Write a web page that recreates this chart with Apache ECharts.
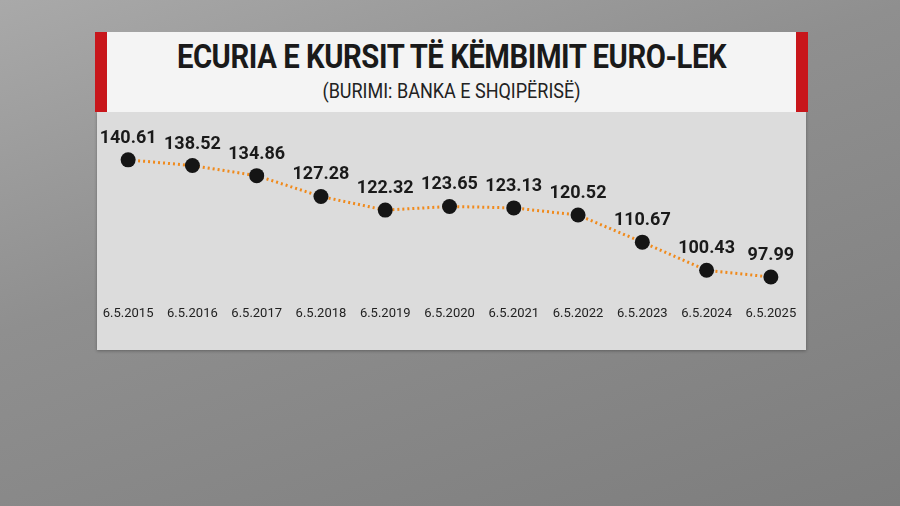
<!DOCTYPE html>
<html><head><meta charset="utf-8">
<script src="https://cdn.jsdelivr.net/npm/echarts@6/dist/echarts.min.js"></script>
<style>
html,body{margin:0;padding:0;width:900px;height:506px;overflow:hidden}
#bg{position:absolute;left:0;top:0;width:900px;height:506px;background:linear-gradient(160deg,#a9a9a9 0%,#8f8f8f 40%,#7d7d7d 100%)}
#panel{position:absolute;left:97px;top:112px;width:709px;height:238px;background:#dcdcdc;box-shadow:0 1px 3px rgba(0,0,0,.3)}
#titlebox{position:absolute;left:95px;top:32px;width:713px;height:80px;background:#f4f4f4}
#titlebox .r{position:absolute;top:0;width:12px;height:80px;background:#c8161b}
#t1{position:absolute;left:0;width:713px;top:4px;text-align:center;font:bold 34px "Roboto",sans-serif;color:#1a1a1a;letter-spacing:-0.5px;transform:scaleX(0.86)}
#t2{position:absolute;left:0;width:713px;top:47px;text-align:center;font:20px "Roboto",sans-serif;color:#222;transform:scaleX(0.9)}
#c{position:absolute;left:0;top:0;width:900px;height:506px}
</style></head><body>
<div id="bg"></div>
<div id="panel"></div>
<div id="titlebox"><div class="r" style="left:0"></div><div class="r" style="right:0"></div>
<div id="t1">ECURIA E KURSIT TË KËMBIMIT EURO-LEK</div>
<div id="t2">(BURIMI: BANKA E SHQIPËRISË)</div></div>
<div id="c"></div>
<script>
const categories=["6.5.2015","6.5.2016","6.5.2017","6.5.2018","6.5.2019","6.5.2020","6.5.2021","6.5.2022","6.5.2023","6.5.2024","6.5.2025"];
const values=[140.61,138.52,134.86,127.28,122.32,123.65,123.13,120.52,110.67,100.43,97.99];
const ch=echarts.init(document.getElementById('c'));
ch.setOption({
 animation:false,
 grid:{left:96,width:707,top:134,height:165},
 xAxis:{type:'category',data:categories,boundaryGap:true,axisLine:{show:false},axisTick:{show:false},
  axisLabel:{interval:0,margin:8,color:'#222',fontSize:13,fontFamily:'Roboto'}},
 yAxis:{type:'value',min:90,max:150,show:false,splitLine:{show:false}},
 series:[{type:'line',data:values,symbol:'circle',symbolSize:15,
  lineStyle:{color:'#f08a1c',width:3,type:[2,3]},
  itemStyle:{color:'#151515'},
  label:{show:true,position:'top',distance:5,color:'#1a1a1a',fontSize:18,fontWeight:'bold',fontFamily:'Roboto',formatter:p=>p.value.toFixed(2)}}]
});
</script></body></html>
